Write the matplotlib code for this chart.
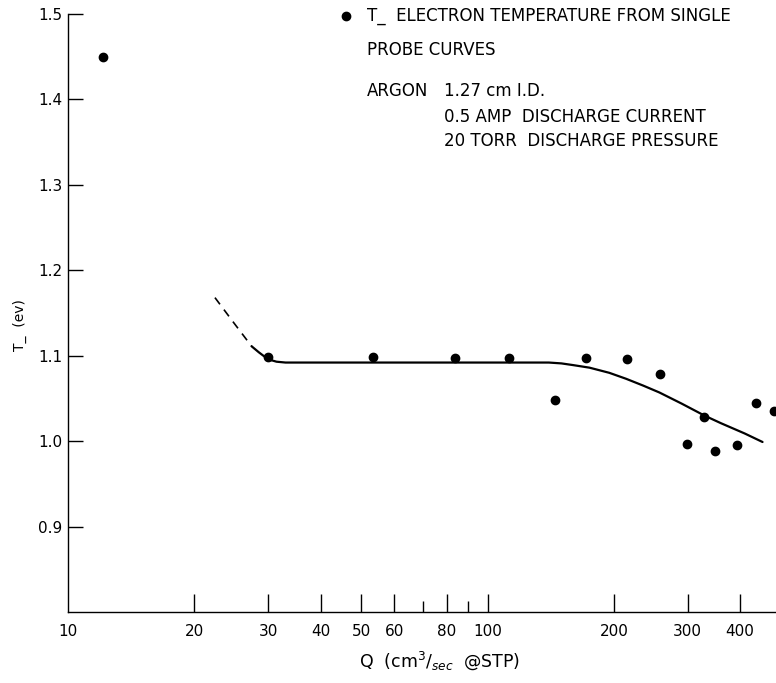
import matplotlib.pyplot as plt
from matplotlib.ticker import FixedLocator, NullFormatter

# measured points (Q in cm3/sec @STP, T_ in ev)
q_points = [12.1, 30.0, 53.2, 83.5, 112.8, 145, 171.8, 214.7, 257.8,
            328.6, 298.9, 347.7, 393, 437, 480.6]
t_points = [1.450, 1.098, 1.098, 1.097, 1.097, 1.048, 1.097, 1.096, 1.079,
            1.028, 0.997, 0.988, 0.996, 1.045, 1.035]

# fitted curve, dashed extrapolation at low Q
q_dash = [22.4, 24.8, 27.4]
t_dash = [1.168, 1.139, 1.111]
q_curve = [27.4, 28.5, 29.4, 30.4, 31.4, 33, 60, 100, 140, 150, 160, 175,
           195, 213.9, 235, 256.7, 290, 328.6, 360, 410, 452.3]
t_curve = [1.111, 1.104, 1.099, 1.095, 1.093, 1.092, 1.092, 1.092, 1.092,
           1.091, 1.089, 1.086, 1.080, 1.073, 1.065, 1.057, 1.044, 1.030,
           1.021, 1.009, 0.999]

major_ticks = [10, 20, 30, 40, 50, 60, 80, 100, 200, 300, 400]
minor_ticks = [70, 90]
y_ticks = [0.9, 1.0, 1.1, 1.2, 1.3, 1.4, 1.5]

W, H = 776, 683
fig = plt.figure(figsize=(W / 100, H / 100), dpi=100)
ax = fig.add_axes([68 / W, 1 - 612 / H, 1 - 68 / W, (612 - 14) / H])

ax.plot(q_dash, t_dash, color="black", lw=1.2, ls=(0, (5, 4)))
ax.plot(q_curve, t_curve, color="black", lw=1.6, solid_capstyle="round")
ax.plot(q_points, t_points, "o", color="black", ms=6, clip_on=False)

ax.set_xscale("log")
ax.set_xlim(10, 487)
ax.set_ylim(0.8, 1.5)

ax.xaxis.set_major_locator(FixedLocator(major_ticks))
ax.xaxis.set_major_formatter(plt.FixedFormatter([str(t) for t in major_ticks]))
ax.xaxis.set_minor_locator(FixedLocator(minor_ticks))
ax.xaxis.set_minor_formatter(NullFormatter())
ax.set_yticks(y_ticks)
ax.set_yticklabels([f"{v:.1f}" for v in y_ticks])

for s in ["top", "right"]:
    ax.spines[s].set_visible(False)
for s in ["left", "bottom"]:
    ax.spines[s].set_linewidth(1.0)

ax.tick_params(axis="x", which="major", direction="in", length=13, width=1,
               labelsize=11, pad=9)
ax.tick_params(axis="x", which="minor", direction="in", length=8, width=1)
ax.tick_params(axis="y", direction="in", length=11, width=1, labelsize=11, pad=4)
# the first x tick sits on the spine; hide its mark
ax.xaxis.get_major_ticks()[0].tick1line.set_visible(False)

ax.set_xlabel(r"Q  (cm$^3$/$_{sec}$  @STP)", fontsize=12.5)
ax.xaxis.set_label_coords((440 - 68) / (W - 68), -0.062)
ax.set_ylabel("T_  (ev)", fontsize=10)
ax.yaxis.set_label_coords(-0.058, 0.48)

# key / notes
def ftext(px, py, s):
    fig.text(px / W, 1 - py / H, s, fontsize=12, va="center", ha="left")

fig.lines.append(plt.Line2D([346 / W], [1 - 16 / H], marker="o", color="black",
                            ms=6, transform=fig.transFigure))
ftext(367, 16, "T_  ELECTRON TEMPERATURE FROM SINGLE")
ftext(367, 50, "PROBE CURVES")
ftext(367, 91, "ARGON")
ftext(444, 91, "1.27 cm I.D.")
ftext(444, 117, "0.5 AMP  DISCHARGE CURRENT")
ftext(444, 141, "20 TORR  DISCHARGE PRESSURE")

fig.savefig("out.png", dpi=100)
